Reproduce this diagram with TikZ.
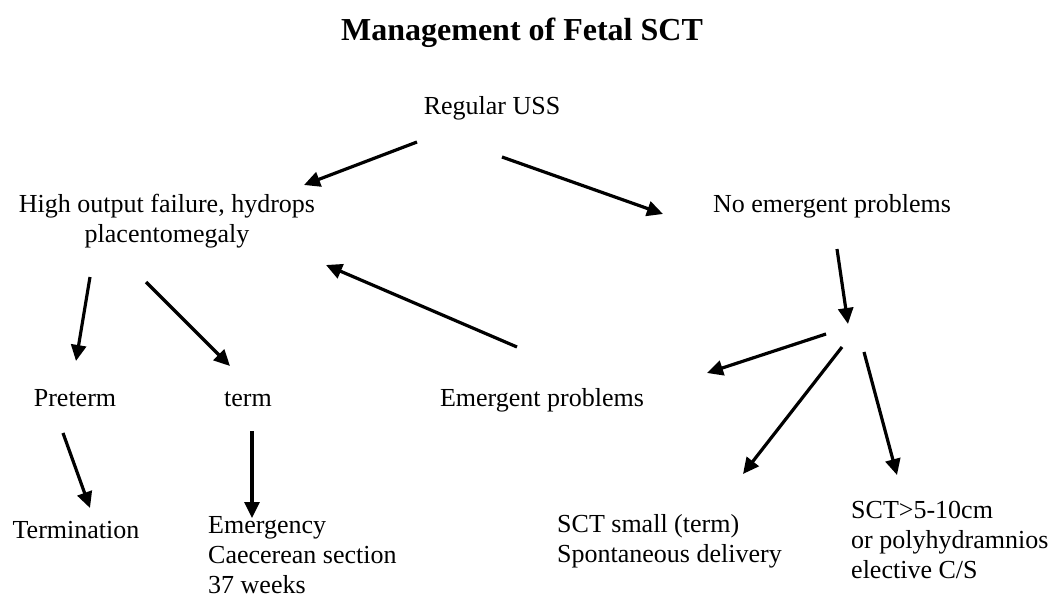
\documentclass[tikz,border=0pt]{standalone}
\usepackage{fontspec}
\setmainfont{Liberation Serif}
\usetikzlibrary{arrows.meta}
\newcommand\lbl{\fontsize{26}{30}\selectfont}

\begin{document}
\begin{tikzpicture}[x=1pt, y=-1pt,
  txt/.style={inner sep=0pt, font=\lbl},
  arr/.style={line width=3.2pt, -{Triangle[length=16pt,width=15pt]}}]
\useasboundingbox (0,0) rectangle (1055,597);

\node at (522, 40) [anchor=base, inner sep=0pt, font=\fontsize{32}{36}\selectfont\bfseries] (title) {Management of Fetal SCT};

% multi-line nodes: base = last line
\node at (492, 114) [txt, anchor=base] (uss) {Regular USS};
\node at (167, 242) [txt, anchor=base, align=center] (hof) {High output failure, hydrops\\placentomegaly};
\node at (832, 212) [txt, anchor=base] (noep) {No emergent problems};

\node at (75, 406) [txt, anchor=base] (pre) {Preterm};
\node at (248, 406) [txt, anchor=base] (term) {term};
\node at (542, 406) [txt, anchor=base] (ep) {Emergent problems};

\node at (76, 538) [txt, anchor=base] (termn) {Termination};
\node at (208, 593) [txt, anchor=base west, align=left] (emcs) {Emergency\\Caecerean section\\37 weeks};
\node at (557, 562) [txt, anchor=base west, align=left] (small) {SCT small (term)\\Spontaneous delivery};
\node at (851, 578) [txt, anchor=base west, align=left] (large) {SCT>5-10cm\\or polyhydramnios\\elective C/S};

    %arrow ends
    \coordinate (ussA) at (417, 142);  \coordinate (hofT) at (304, 185);
    \coordinate (ussB) at (502, 157);  \coordinate (noepT) at (663, 214);
    \coordinate (epA) at (517, 347);   \coordinate (hofU) at (326, 265);
    \coordinate (hofA) at (90, 277);   \coordinate (preT) at (76, 361);
    \coordinate (hofB) at (146, 282);  \coordinate (termT) at (230, 366);
    \coordinate (preA) at (63, 433);   \coordinate (termnT) at (90, 508);
    \coordinate (termA) at (252, 431); \coordinate (emcsT) at (252, 518);
    \coordinate (noepA) at (837, 249); \coordinate (junc) at (848, 324);
    \coordinate (jA) at (826, 334);    \coordinate (epT) at (707, 373);
    \coordinate (jB) at (842, 347);    \coordinate (smallT) at (743, 474);
    \coordinate (jC) at (864, 352);    \coordinate (largeT) at (897, 475);

    %Regular USS branches
    \draw [arr] (ussA) -- (hofT);
    \draw [arr] (ussB) -- (noepT);
    \draw [arr] (epA) -- (hofU);
    %left side
    \draw [arr] (hofA) -- (preT);
    \draw [arr] (hofB) -- (termT);
    \draw [arr] (preA) -- (termnT);
    \draw [arr] (termA) -- (emcsT);
    %right side
    \draw [arr] (noepA) -- (junc);
    \draw [arr] (jA) -- (epT);
    \draw [arr] (jB) -- (smallT);
    \draw [arr] (jC) -- (largeT);
\end{tikzpicture}
\end{document}
